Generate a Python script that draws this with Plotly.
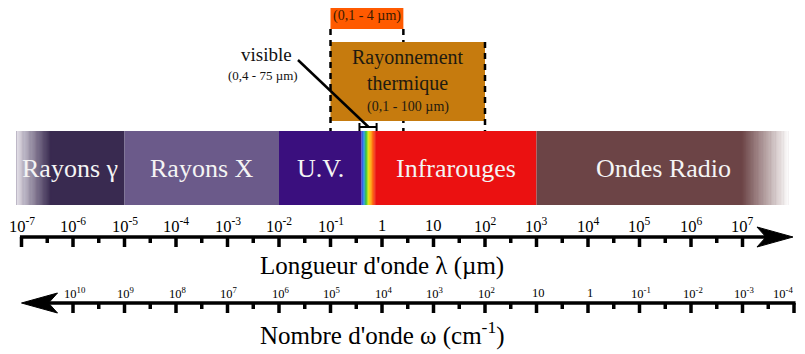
import numpy as np
import plotly.graph_objects as go

# ---------------- data ----------------
band_names = ["Rayons γ", "Rayons X", "U.V.", "", "Infrarouges", "Ondes Radio"]
band_start_um = [10 ** -7.1, 1e-5, 1e-2, 0.4, 0.75, 1e3]
band_end_um = [1e-5, 1e-2, 0.4, 0.75, 1e3, 10 ** 7.92]
band_colors = ["#392a50", "#6b5a8a", "#3a0f7e", None, "#eb1111", "#6c4446"]

visible_range_um = [0.4, 0.75]
visible_colors = ["#2a2ae0", "#1f8fe8", "#2cc02c", "#e8e800", "#ffa000", "#ff5000", "#e81010"]
thermal_range_um = [0.1, 100]
near_range_um = [0.1, 2.6]

wavelength_tick_exp = list(range(-7, 8))          # µm
wavenumber_tick_exp = list(range(10, -5, -1))     # cm^-1  (omega = 1e4 / lambda)

# ---------------- layout helpers ----------------
WIN_W, WIN_H = 805, 354
PAGE_OFF = 8                    # default body margin of the html page
W, H = WIN_W - PAGE_OFF, WIN_H - PAGE_OFF
PX_PER_DEC = 51.5
X_ONE = 382.0
FONT = "Liberation Serif"

def lx(um):
    return float(np.log10(um))

fig = go.Figure()
shapes = []
annotations = []

BAR_TOP, BAR_BOT = 131, 205

def rect(x0, x1, y0, y1, color, line=None):
    d = dict(type="rect", xref="x", yref="y", x0=x0, x1=x1, y0=y0, y1=y1,
             fillcolor=color, line=dict(width=0))
    if line:
        d["line"] = line
    shapes.append(d)

def hex2rgb(h):
    h = h.lstrip("#")
    return [int(h[i:i + 2], 16) for i in (0, 2, 4)]

def gradient(x0, x1, c0, c1, n=30):
    a, b = np.array(hex2rgb(c0)), np.array(hex2rgb(c1))
    edges = np.linspace(x0, x1, n + 1)
    for i in range(n):
        t = i / (n - 1)
        c = (a + (b - a) * t).round().astype(int)
        rect(edges[i], edges[i + 1] + 0.01, BAR_TOP, BAR_BOT, "rgb(%d,%d,%d)" % tuple(c))

# spectrum bands
for name, s, e, col in zip(band_names, band_start_um, band_end_um, band_colors):
    if col is None:
        continue
    rect(lx(s), lx(e), BAR_TOP, BAR_BOT, col)

# fades
g0 = lx(band_start_um[0])
gradient(g0, g0 + 0.68, "#e2dee6", band_colors[0])
r1 = lx(band_end_um[-1])
gradient(r1 - 0.95, r1, band_colors[-1], "#ffffff")

# visible rainbow
v0, v1 = lx(visible_range_um[0]), lx(visible_range_um[1])
n = 24
edges = np.linspace(v0, v1, n + 1)
stops = np.linspace(0, 1, len(visible_colors))
for i in range(n):
    t = (i + 0.5) / n
    k = min(int(t * (len(visible_colors) - 1)), len(visible_colors) - 2)
    f = (t - stops[k]) / (stops[k + 1] - stops[k])
    a, b = np.array(hex2rgb(visible_colors[k])), np.array(hex2rgb(visible_colors[k + 1]))
    c = (a + (b - a) * f).round().astype(int)
    rect(edges[i], edges[i + 1] + 0.005, BAR_TOP, BAR_BOT, "rgb(%d,%d,%d)" % tuple(c))

# band labels
for name, s, e in zip(band_names, band_start_um, band_end_um):
    if not name:
        continue
    annotations.append(dict(x=(lx(s) + lx(e)) / 2, y=168, xref="x", yref="y", text=name,
                            showarrow=False, font=dict(family=FONT, size=26, color="#f4f4f4")))

# dashed helper lines (middle one below the box)
dash = "6px,5px"
shapes.append(dict(type="line", xref="x", yref="y", x0=lx(near_range_um[1]), x1=lx(near_range_um[1]),
                   y0=29, y1=BAR_TOP, line=dict(color="black", width=2.5, dash=dash)))
# thermal box
rect(lx(thermal_range_um[0]), lx(thermal_range_um[1]), 42, 121, "#c67b0e")
# near box
rect(lx(near_range_um[0]), lx(near_range_um[1]), 8, 29, "#ff5a00")
shapes.append(dict(type="line", xref="x", yref="y", x0=lx(thermal_range_um[0]), x1=lx(thermal_range_um[0]),
                   y0=29, y1=BAR_TOP, line=dict(color="black", width=2.5, dash=dash)))
shapes.append(dict(type="line", xref="x", yref="y", x0=lx(thermal_range_um[1]), x1=lx(thermal_range_um[1]),
                   y0=42, y1=BAR_TOP, line=dict(color="black", width=2.5, dash=dash)))

tmid = (lx(thermal_range_um[0]) + lx(thermal_range_um[1])) / 2
annotations.append(dict(x=tmid, y=70, xref="x", yref="y", text="Rayonnement<br>thermique",
                        showarrow=False, font=dict(family=FONT, size=20, color="#1e1a10")))
annotations.append(dict(x=tmid, y=107, xref="x", yref="y", text="(0,1 - 100 µm)",
                        showarrow=False, font=dict(family=FONT, size=14, color="#1e1a10")))
nmid = (lx(near_range_um[0]) + lx(near_range_um[1])) / 2
annotations.append(dict(x=nmid, y=16, xref="x", yref="y", text="(0,1 - 4 µm)",
                        showarrow=False, font=dict(family=FONT, size=14, color="#3a1a00")))

# visible bracket and pointer
shapes.append(dict(type="line", xref="x", yref="y", x0=v0 - 0.04, x1=v1 + 0.02, y0=127, y1=127,
                   line=dict(color="black", width=2)))
for xv in (v0 - 0.04, v1 + 0.02):
    shapes.append(dict(type="line", xref="x", yref="y", x0=xv, x1=xv, y0=123, y1=131,
                       line=dict(color="black", width=2)))
vm = (v0 + v1) / 2
shapes.append(dict(type="line", xref="x", yref="y", x0=vm - 1.37, x1=vm, y0=60, y1=127,
                   line=dict(color="black", width=2.5)))
annotations.append(dict(x=vm - 1.98, y=54, xref="x", yref="y", text="visible",
                        showarrow=False, font=dict(family=FONT, size=19, color="#111")))
annotations.append(dict(x=vm - 2.05, y=75, xref="x", yref="y", text="(0,4 - 75 µm)",
                        showarrow=False, font=dict(family=FONT, size=13, color="#111")))

# ---------------- axes drawn as traces ----------------
def exp_label(e):
    if e == 0:
        return "1"
    if e == 1:
        return "10"
    return "10<sup>%d</sup>" % e

def axis(y, majors, minors, x_start, x_end, maj_len, min_len):
    xs, ys = [], []
    xs += [x_start, x_end, None]
    ys += [y, y, None]
    for m in majors:
        xs += [m, m, None]
        ys += [y, y + maj_len, None]
    for m in minors:
        xs += [m, m, None]
        ys += [y, y + min_len, None]
    fig.add_trace(go.Scatter(x=xs, y=ys, mode="lines", line=dict(color="black", width=3.5),
                             hoverinfo="skip", showlegend=False))

def arrowhead(tip_x, y, direction):
    d = direction
    L = 36 / PX_PER_DEC
    N = 27 / PX_PER_DEC
    xs = [tip_x, tip_x - d * L, tip_x - d * N, tip_x - d * L, tip_x]
    ys = [y, y - 10, y, y + 10, y]
    fig.add_trace(go.Scatter(x=xs, y=ys, mode="lines", fill="toself", fillcolor="black",
                             line=dict(color="black", width=1), hoverinfo="skip", showlegend=False))

# wavelength axis
TOP_Y = 237
wl_major = [float(e) for e in wavelength_tick_exp]
wl_minor = [e + 0.5 for e in wl_major[:-1]]
arrow_tip_top = wl_major[-1] + 0.98
axis(TOP_Y, wl_major, wl_minor, wl_major[0] - 0.03, arrow_tip_top - 0.5, 10, 6)
arrowhead(arrow_tip_top, TOP_Y, +1)
for e in wavelength_tick_exp:
    annotations.append(dict(x=e, y=225, xref="x", yref="y", text=exp_label(e), showarrow=False,
                            font=dict(family=FONT, size=16.5, color="black")))
annotations.append(dict(x=0.0, y=266, xref="x", yref="y", text="Longueur d'onde λ (µm)",
                        showarrow=False, font=dict(family=FONT, size=25, color="black")))

# wavenumber axis
BOT_Y = 303
wn_pos = [4.0 - e for e in wavenumber_tick_exp]   # lambda(µm) = 1e4 / omega(cm^-1)
wn_minor = [p + 0.5 for p in wn_pos[:-1]]
arrow_tip_bot = wn_pos[0] - 1.0
axis(BOT_Y, wn_pos, wn_minor, arrow_tip_bot + 0.5, wn_pos[-1] + 0.03, 10, 6)
arrowhead(arrow_tip_bot, BOT_Y, -1)
for i, (e, p) in enumerate(zip(wavenumber_tick_exp, wn_pos)):
    last = i == len(wn_pos) - 1
    annotations.append(dict(x=p + (-0.22 if last else 0.03), y=293, xref="x", yref="y", text=exp_label(e),
                            showarrow=False, xanchor="center",
                            font=dict(family=FONT, size=12.5, color="black")))
annotations.append(dict(x=0.0, y=333, xref="x", yref="y", text="Nombre d'onde ω (cm<sup>-1</sup>)",
                        showarrow=False, font=dict(family=FONT, size=25, color="black")))

fig.update_layout(
    width=W, height=H,
    margin=dict(l=0, r=0, t=0, b=0),
    paper_bgcolor="white", plot_bgcolor="white",
    xaxis=dict(range=[(PAGE_OFF - X_ONE) / PX_PER_DEC, (WIN_W - X_ONE) / PX_PER_DEC],
               visible=False, fixedrange=True),
    yaxis=dict(range=[WIN_H, PAGE_OFF], visible=False, fixedrange=True),
    shapes=shapes, annotations=annotations, showlegend=False,
)
fig.write_html("out.html")
